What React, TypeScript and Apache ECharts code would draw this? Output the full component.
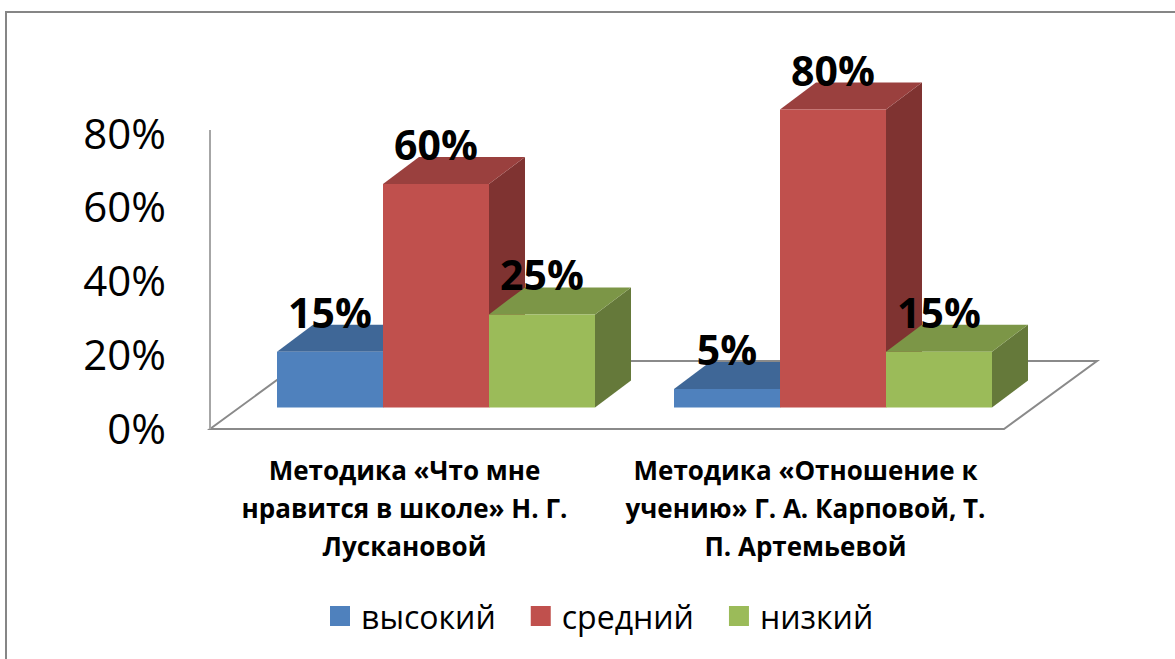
import React, { useEffect, useRef } from "react";
import * as echarts from "echarts";

const categories = [
  "Методика «Что мне\nнравится в школе» Н. Г.\nЛускановой",
  "Методика «Отношение к\nучению» Г. А. Карповой, Т.\nП. Артемьевой",
];
const seriesNames = ["высокий", "средний", "низкий"];
const vysokiy = [15, 5];
const sredniy = [60, 80];
const nizkiy = [25, 15];
const yTicks = [0, 20, 40, 60, 80];

const frontColors = ["#4F81BD", "#C0504D", "#9BBB59"];
const topColors = ["#3F6797", "#9A403E", "#7C9647"];
const sideColors = ["#375A84", "#7F3331", "#65793A"];

const DEPTH_X = 36;
const DEPTH_Y = -27;
const FONT = "'Open Sans', 'Noto Sans', sans-serif";

function barRender(si: number) {
  return (params: any, api: any) => {
    const cat = api.value(0);
    const v = api.value(1);
    const base = api.coord([cat, 0]);
    const top = api.coord([cat, v]);
    const w = api.size([1, 0])[0] * 0.267;
    const x0 = base[0] + (si - 1.5) * w;
    const x1 = x0 + w;
    const y0 = base[1];
    const y1 = top[1];
    return {
      type: "group",
      children: [
        {
          type: "polygon",
          shape: { points: [[x1, y0], [x1 + DEPTH_X, y0 + DEPTH_Y], [x1 + DEPTH_X, y1 + DEPTH_Y], [x1, y1]] },
          style: { fill: sideColors[si] },
        },
        {
          type: "polygon",
          shape: { points: [[x0, y1], [x1, y1], [x1 + DEPTH_X, y1 + DEPTH_Y], [x0 + DEPTH_X, y1 + DEPTH_Y]] },
          style: { fill: topColors[si] },
        },
        {
          type: "rect",
          shape: { x: x0, y: y1, width: w, height: y0 - y1 },
          style: { fill: frontColors[si] },
        },
      ],
    };
  };
}

function labelRender(si: number) {
  return (params: any, api: any) => {
    const cat = api.value(0);
    const v = api.value(1);
    const top = api.coord([cat, v]);
    const w = api.size([1, 0])[0] * 0.267;
    return {
      type: "text",
      style: {
        text: v + "%",
        x: top[0] + (si - 1) * w,
        y: top[1] - 40,
        align: "center",
        verticalAlign: "middle",
        fill: "#000",
        font: `bold 41px ${FONT}`,
      },
    };
  };
}

export default function App() {
  const ref = useRef<HTMLDivElement>(null);
  useEffect(() => {
    document.body.style.margin = "0";
    const chart = echarts.init(ref.current!, undefined, { renderer: "svg" });
    const values = [vysokiy, sredniy, nizkiy];
    const series: any[] = [];
    seriesNames.forEach((name, si) => {
      series.push({
        type: "custom",
        name,
        xAxisIndex: 1,
        yAxisIndex: 1,
        z: 3,
        itemStyle: { color: frontColors[si] },
        encode: { x: 0, y: 1 },
        data: values[si].map((v, i) => [i, v]),
        renderItem: barRender(si),
      });
    });
    seriesNames.forEach((name, si) => {
      series.push({
        type: "custom",
        name: name + " подписи",
        xAxisIndex: 1,
        yAxisIndex: 1,
        z: 5,
        encode: { x: 0, y: 1 },
        data: values[si].map((v, i) => [i, v]),
        renderItem: labelRender(si),
      });
    });
    chart.setOption({
      animation: false,
      backgroundColor: "#fff",
      legend: {
        left: 325,
        top: 595,
        itemWidth: 20,
        itemHeight: 20,
        itemGap: 35,
        icon: "rect",
        data: seriesNames,
        selectedMode: false,
        textStyle: { fontFamily: FONT, fontSize: 32, color: "#000", padding: [0, 0, 0, 6] },
      },
      grid: [
        { left: 204, top: 132, width: 802, height: 295 },
        { left: 237.5, top: 109.5, width: 794, height: 298 },
      ],
      xAxis: [
        {
          type: "category",
          gridIndex: 0,
          data: categories,
          axisLine: { show: false },
          axisTick: { show: false },
          axisLabel: {
            interval: 0,
            margin: 24,
            fontFamily: FONT,
            fontWeight: "bold",
            fontSize: 26,
            lineHeight: 38,
            color: "#000",
          },
        },
        { type: "category", gridIndex: 1, data: categories, show: false },
      ],
      yAxis: [
        {
          type: "value",
          gridIndex: 0,
          min: yTicks[0],
          max: yTicks[yTicks.length - 1],
          interval: 20,
          axisLine: { show: false },
          axisTick: { show: false },
          splitLine: { show: false },
          axisLabel: {
            formatter: "{value}%",
            margin: 38,
            fontFamily: FONT,
            fontSize: 42,
            color: "#000",
          },
        },
        { type: "value", gridIndex: 1, min: 0, max: 80, interval: 20, show: false },
      ],
      graphic: [
        {
          type: "rect",
          silent: true,
          z: 0,
          shape: { x: 6, y: 12, width: 1300, height: 800 },
          style: { fill: "none", stroke: "#868686", lineWidth: 2 },
        },
        {
          type: "polygon",
          silent: true,
          z: 0,
          shape: { points: [[210, 429], [1004, 429], [1097, 361], [303, 361]] },
          style: { fill: "none", stroke: "#8A8A8A", lineWidth: 2 },
        },
        {
          type: "line",
          silent: true,
          z: 0,
          shape: { x1: 210, y1: 130, x2: 210, y2: 429 },
          style: { stroke: "#A6A6A6", lineWidth: 2 },
        },
      ],
      series,
    });
    return () => chart.dispose();
  }, []);
  return <div ref={ref} style={{ width: 1175, height: 659 }} />;
}
